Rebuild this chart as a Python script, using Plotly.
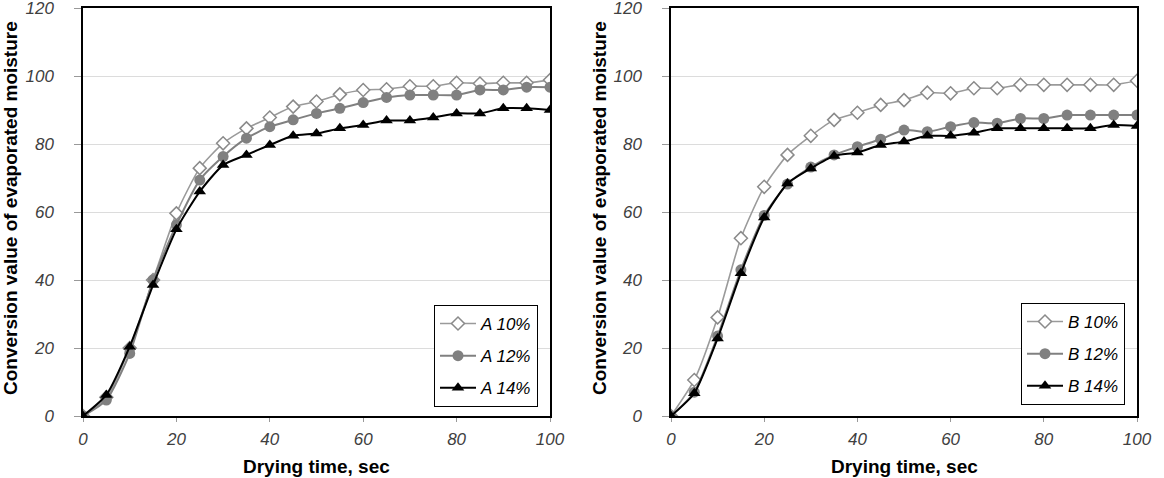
import plotly.graph_objects as go

time_sec = [0, 5, 10, 15, 20, 25, 30, 35, 40, 45, 50, 55, 60, 65, 70, 75, 80, 85, 90, 95, 100]

a10 = [0, 5.5, 20, 40, 59.6, 72.9, 80.2, 84.6, 87.8, 91.0, 92.5, 94.6, 95.9, 96.1, 97.0, 97.0, 98.0, 97.8, 98.0, 98.0, 98.8]
a12 = [0, 4.7, 18.4, 40, 56.2, 69.4, 76.3, 81.7, 85.1, 87.1, 89.0, 90.5, 92.2, 93.7, 94.4, 94.4, 94.4, 95.9, 95.9, 96.7, 96.7]
a14 = [0, 6.2, 20.4, 38.5, 54.9, 66.0, 73.8, 76.8, 79.7, 82.4, 83.1, 84.6, 85.6, 86.9, 86.9, 87.8, 89.0, 89.0, 90.5, 90.5, 90.0]

b10 = [0, 10.6, 29.0, 52.3, 67.4, 76.8, 82.4, 87.1, 89.2, 91.5, 92.9, 95.1, 94.9, 96.4, 96.4, 97.4, 97.4, 97.4, 97.4, 97.4, 98.6]
b12 = [0, 7.0, 23.5, 43.0, 59.0, 68.2, 73.2, 76.8, 79.2, 81.4, 84.1, 83.6, 85.1, 86.3, 86.1, 87.5, 87.5, 88.5, 88.5, 88.5, 88.5]
b14 = [0, 6.7, 22.8, 42.0, 58.4, 68.4, 72.8, 76.5, 77.5, 79.7, 80.7, 82.4, 82.4, 83.3, 84.6, 84.6, 84.6, 84.6, 84.6, 85.6, 85.3]

labels_a = ["A 10%", "A 12%", "A 14%"]
labels_b = ["B 10%", "B 12%", "B 14%"]

y_ticks = [0, 20, 40, 60, 80, 100, 120]
x_ticks = [0, 20, 40, 60, 80, 100]

W, H = 1164, 478
FONT = "Liberation Sans, Arial, sans-serif"

styles = [
    dict(line=dict(color="#9a9a9a", width=1.6, shape="spline", smoothing=0.6),
         marker=dict(symbol="diamond", size=10, color="white", line=dict(color="#8a8a8a", width=1.5))),
    dict(line=dict(color="#808080", width=2, shape="spline", smoothing=0.6),
         marker=dict(symbol="circle", size=11, color="#808080", line=dict(color="#808080", width=0))),
    dict(line=dict(color="#000000", width=2, shape="spline", smoothing=0.6),
         marker=dict(symbol="triangle-up", size=11, color="#000000", line=dict(color="#000000", width=0))),
]

fig = go.Figure()
for i, (name, ys) in enumerate(zip(labels_a, [a10, a12, a14])):
    fig.add_trace(go.Scatter(x=time_sec, y=ys, name=name, mode="lines+markers",
                             xaxis="x", yaxis="y", legend="legend", legendgroup=name,
                             **styles[i]))
for i, (name, ys) in enumerate(zip(labels_b, [b10, b12, b14])):
    fig.add_trace(go.Scatter(x=time_sec, y=ys, name=name, mode="lines+markers",
                             xaxis="x2", yaxis="y2", legend="legend2", legendgroup=name,
                             **styles[i]))

x1 = [83 / W, 550 / W]
x2 = [671 / W, 1137 / W]
ydom = [(H - 416) / H, (H - 8) / H]

tickfont = dict(family=FONT, size=17, color="#404040", style="italic")
xcommon = dict(range=[0, 100], tickvals=x_ticks, showgrid=False, zeroline=False,
               showline=True, linecolor="#000000", linewidth=1.5, mirror=True,
               ticks="outside", ticklen=4, tickcolor="#999999", tickfont=tickfont,
               ticklabelstandoff=3, ticklabeloverflow="allow", automargin=False)
ycommon = dict(range=[0, 120], tickvals=y_ticks, showgrid=True, gridcolor="#dcdcdc",
               gridwidth=1, zeroline=False, showline=True, linecolor="#000000",
               linewidth=1.5, mirror=True, ticks="outside", ticklen=7, tickcolor="#999999",
               tickfont=tickfont, ticklabelstandoff=17, ticklabeloverflow="allow",
               automargin=False)

legend_common = dict(bgcolor="white", bordercolor="#000000", borderwidth=1,
                     font=dict(family=FONT, size=17, color="#000000", style="italic"),
                     xanchor="right", yanchor="top", tracegroupgap=7,
                     traceorder="grouped", itemwidth=36)

fig.update_layout(
    width=W, height=H,
    margin=dict(l=0, r=0, t=0, b=0, autoexpand=False),
    paper_bgcolor="white", plot_bgcolor="white",
    font=dict(family=FONT),
    xaxis=dict(domain=x1, anchor="y", **xcommon),
    yaxis=dict(domain=ydom, anchor="x", **ycommon),
    xaxis2=dict(domain=x2, anchor="y2", **xcommon),
    yaxis2=dict(domain=ydom, anchor="x2", **ycommon),
    legend=dict(x=538 / W, y=(H - 305) / H, **legend_common),
    legend2=dict(x=1125 / W, y=(H - 303) / H, **legend_common),
)

title_font = dict(family=FONT, size=19, color="#000000", weight="bold")
for cx in [(83 + 550) / 2 / W, (671 + 1137) / 2 / W]:
    fig.add_annotation(text="Drying time, sec", x=cx, y=(H - 466) / H, xref="paper", yref="paper",
                       showarrow=False, font=title_font, xanchor="center", yanchor="middle")
for cx in [10 / W, 599 / W]:
    fig.add_annotation(text="Conversion value of evaporated moisture", x=cx, y=(H - 208) / H,
                       xref="paper", yref="paper", textangle=-90, showarrow=False,
                       font=title_font, xanchor="center", yanchor="middle")

fig.write_html("out.html")
